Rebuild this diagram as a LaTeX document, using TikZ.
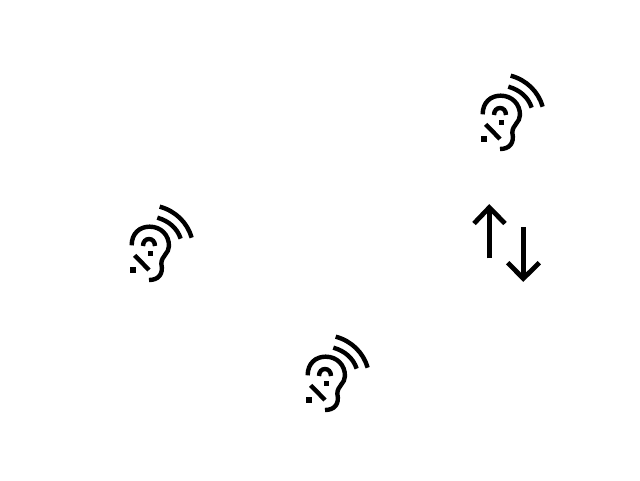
\documentclass[tikz,border=0pt]{standalone}
\tikzset{
  stroke/.style={line width=4.4pt,line cap=butt,line join=miter,black},
  earicon/.pic={
    \begin{scope}[x=0.3333pt,y=-0.3333pt]
      \draw[stroke] (122,32) .. controls (170,45) and (205,80) .. (218,125);
      \draw[stroke] (115,65) .. controls (150,75) and (175,97) .. (185,128);
      \draw[stroke] (38,148) .. controls (38,112) and (62,92) .. (92,92)
        .. controls (125,92) and (150,116) .. (150,150)
        .. controls (150,172) and (127,180) .. (127,203)
        .. controls (134,235) and (118,252) .. (90,252);
      \draw[stroke] (72,150) .. controls (72,122) and (108,122) .. (108,150);
      \fill (86,164) rectangle (103,181);
      \draw[stroke] (47,178) -- (90,222);
      \fill (34,214) rectangle (51,231);
    \end{scope}
  }
}
\begin{document}
\begin{tikzpicture}[x=1pt,y=-1pt]
  \useasboundingbox (0,0) rectangle (640,480);
  \fill[white] (0,0) rectangle (640,480);
  \pic at (470,65) {earicon};
  \pic at (119,196) {earicon};
  \pic at (295,326) {earicon};
  \draw[line width=4.8pt,black,line join=miter] (489.3,258.3) -- (489.3,208);
  \draw[line width=4.8pt,black,line join=miter] (474,223.5) -- (489.3,207.5) -- (505,223.5);
  \draw[line width=4.8pt,black] (523.3,227.3) -- (523.3,278);
  \draw[line width=4.8pt,black,line join=miter] (507.7,262.7) -- (523.3,278.5) -- (539.3,262.7);
\end{tikzpicture}
\end{document}
